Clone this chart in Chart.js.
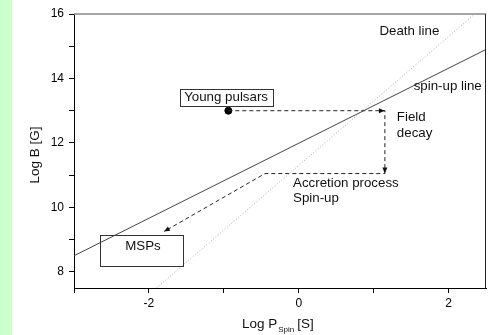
<!DOCTYPE html>
<html>
<head>
<meta charset="utf-8">
<script src="https://cdn.jsdelivr.net/npm/chart.js@4/dist/chart.umd.min.js"></script>
<style>
  html, body { margin: 0; padding: 0; background: #fff; }
  #wrap { position: relative; width: 491px; height: 335px; overflow: hidden; }
  #strip { position: absolute; left: 0; top: 0; width: 12px; height: 335px; background: #ccffcc; }
  #chart { position: absolute; left: 0; top: 0; }
</style>
</head>
<body>
<div id="wrap">
  <div id="strip"></div>
  <canvas id="chart" width="491" height="335"></canvas>
</div>
<script>
"use strict";

// axis ranges + ticks
const xRange = [-3, 2.5];
const yRange = [7.5, 16];
const xTicks = [-3, -2, -1, 0, 1, 2];
const xTickLabels = ["", "-2", "", "0", "", "2"];
const yTicks = [8, 9, 10, 11, 12, 13, 14, 15, 16];
const yTickLabels = ["8", "", "10", "", "12", "", "14", "", "16"];

// lines
const spinUpX = [-3, 2.5];
const spinUpY = [8.5, 14.9];
const deathX = [-1.9, 2.35];
const deathY = [7.5, 16];

// evolution path (young pulsar -> field decay -> spin-up -> MSP)
const pathX = [-0.94, 1.15, 1.15, -0.45, -1.8];
const pathY = [13, 13, 11.05, 11.05, 9.25];
const arrowAt = [1, 2, 4];

const youngX = [-0.94];
const youngY = [13];

// label boxes (data units: x0, x1, y0, y1)
const boxYoung = [-1.59, -0.35, 13.14, 13.665];
const boxMsp = [-2.65, -1.54, 8.17, 9.13];

// free text labels: [text, x, y, align]
const labels = [
  ["Death line", 1.077, 15.45, "left"],
  ["spin-up line", 1.535, 13.77, "left"],
  ["Field", 1.31, 12.78, "left"],
  ["decay", 1.31, 12.3, "left"],
  ["Accretion process", -0.076, 10.75, "left"],
  ["Spin-up", -0.076, 10.27, "left"],
  ["Young pulsars", -0.97, 13.4, "center"],
  ["MSPs", -2.08, 8.78, "center"],
];

const FONT = "'Liberation Sans', Arial, sans-serif";

const toPts = (xs, ys) => xs.map((x, i) => ({ x, y: ys[i] }));

const overlay = {
  id: "overlay",
  afterDatasetsDraw(chart) {
    const { ctx, chartArea: a, scales } = chart;
    const px = (v) => scales.x.getPixelForValue(v);
    const py = (v) => scales.y.getPixelForValue(v);
    ctx.save();

    // top + right frame
    ctx.lineWidth = 1.5;
    ctx.strokeStyle = "#888";
    ctx.beginPath();
    ctx.moveTo(a.left, a.top);
    ctx.lineTo(a.right, a.top);
    ctx.stroke();
    ctx.lineWidth = 1;
    ctx.strokeStyle = "#222";
    ctx.beginPath();
    ctx.moveTo(a.right - 0.5, a.top);
    ctx.lineTo(a.right - 0.5, a.bottom);
    ctx.stroke();

    // arrowheads on path
    ctx.fillStyle = "#111";
    arrowAt.forEach((i) => {
      const x1 = px(pathX[i]), y1 = py(pathY[i]);
      const x0 = px(pathX[i - 1]), y0 = py(pathY[i - 1]);
      const ang = Math.atan2(y1 - y0, x1 - x0);
      const len = 6, hw = 2.5;
      ctx.beginPath();
      ctx.moveTo(x1, y1);
      ctx.lineTo(x1 - len * Math.cos(ang) + hw * Math.sin(ang), y1 - len * Math.sin(ang) - hw * Math.cos(ang));
      ctx.lineTo(x1 - len * Math.cos(ang) - hw * Math.sin(ang), y1 - len * Math.sin(ang) + hw * Math.cos(ang));
      ctx.closePath();
      ctx.fill();
    });

    // boxes
    ctx.strokeStyle = "#333";
    ctx.lineWidth = 1;
    [boxYoung, boxMsp].forEach((b) => {
      const x0 = Math.round(px(b[0])) + 0.5, x1 = Math.round(px(b[1])) + 0.5;
      const y0 = Math.round(py(b[3])) + 0.5, y1 = Math.round(py(b[2])) + 0.5;
      ctx.strokeRect(x0, y0, x1 - x0, y1 - y0);
    });

    // text labels
    ctx.fillStyle = "#111";
    ctx.font = "13.3px " + FONT;
    ctx.textBaseline = "middle";
    labels.forEach(([t, x, y, al]) => {
      ctx.textAlign = al;
      ctx.fillText(t, px(x), py(y));
    });

    // y title
    ctx.font = "13.5px " + FONT;
    ctx.textAlign = "center";
    ctx.save();
    ctx.translate(35, (a.top + a.bottom) / 2 + 4);
    ctx.rotate(-Math.PI / 2);
    ctx.fillText("Log B [G]", 0, 0);
    ctx.restore();

    // x title with subscript
    ctx.textAlign = "left";
    ctx.textBaseline = "alphabetic";
    let tx = 242;
    const base = 328;
    ctx.font = "13.5px " + FONT;
    ctx.fillText("Log P", tx, base);
    tx += ctx.measureText("Log P").width + 1;
    ctx.font = "8px " + FONT;
    ctx.fillText("Spin", tx, base + 4);
    tx += ctx.measureText("Spin").width + 3;
    ctx.font = "13.5px " + FONT;
    ctx.fillText("[S]", tx, base);

    ctx.restore();
  },
};

const tickFont = { family: FONT, size: 12 };

new Chart(document.getElementById("chart"), {
  type: "scatter",
  data: {
    datasets: [
      {
        data: toPts(spinUpX, spinUpY),
        showLine: true,
        borderColor: "#444",
        borderWidth: 1,
        pointRadius: 0,
      },
      {
        data: toPts(deathX, deathY),
        showLine: true,
        borderColor: "#aaa",
        borderWidth: 1,
        borderDash: [1, 2],
        pointRadius: 0,
      },
      {
        data: toPts(pathX, pathY),
        showLine: true,
        borderColor: "#222",
        borderWidth: 1,
        borderDash: [4, 3],
        pointRadius: 0,
      },
      {
        data: toPts(youngX, youngY),
        backgroundColor: "#000",
        borderColor: "#000",
        pointRadius: 3.5,
      },
    ],
  },
  options: {
    responsive: false,
    animation: false,
    layout: { padding: { top: 14, right: 3, left: 0, bottom: 0 } },
    plugins: { legend: { display: false }, tooltip: { enabled: false } },
    scales: {
      x: {
        type: "linear",
        min: xRange[0],
        max: xRange[1],
        afterBuildTicks: (s) => { s.ticks = xTicks.map((v) => ({ value: v })); },
        afterFit: (s) => { s.height = 47; },
        grid: { drawOnChartArea: false, tickLength: 5, tickColor: "#000" },
        border: { color: "#000", width: 1 },
        ticks: {
          color: "#000",
          font: tickFont,
          padding: 3,
          maxRotation: 0,
          autoSkip: false,
          callback: (v) => xTickLabels[xTicks.indexOf(v)] ?? "",
        },
      },
      y: {
        type: "linear",
        min: yRange[0],
        max: yRange[1],
        afterBuildTicks: (s) => { s.ticks = yTicks.map((v) => ({ value: v })); },
        afterFit: (s) => { s.width = 74; },
        grid: { drawOnChartArea: false, tickLength: 5, tickColor: "#000" },
        border: { color: "#000", width: 1 },
        ticks: {
          color: "#000",
          font: tickFont,
          padding: 5,
          autoSkip: false,
          callback: (v) => yTickLabels[yTicks.indexOf(v)] ?? "",
        },
      },
    },
  },
  plugins: [overlay],
});
</script>
</body>
</html>
